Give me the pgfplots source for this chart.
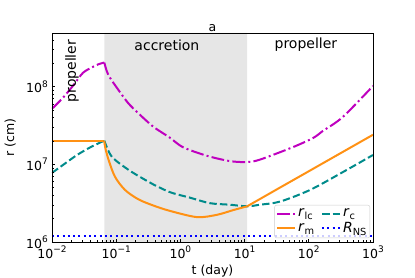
\documentclass[border=0pt,12pt]{standalone}
\usepackage{fontspec}
\setmainfont{DejaVu Sans}
\usepackage{pgfplots}
\pgfplotsset{compat=1.18}
\definecolor{cmag}{RGB}{191,0,191}
\definecolor{cteal}{RGB}{0,139,139}
\definecolor{corange}{RGB}{255,145,20}
\definecolor{cblue}{RGB}{0,0,255}
\definecolor{cshade}{RGB}{230,230,230}
\newcommand{\sx}[1]{10\raisebox{0.45em}{\fontsize{9}{10}\selectfont #1}}
\newcommand{\lsub}[1]{\raisebox{-0.35ex}{\fontsize{9.8}{10}\selectfont #1}}
\newcommand{\bigfont}{\fontsize{14}{16}\selectfont}
\newcommand{\midfont}{\fontsize{12.5}{14}\selectfont}
\begin{document}
\begin{tikzpicture}
\useasboundingbox (-52pt,-35pt) rectangle (363pt,242pt);
\begin{axis}[
  at={(0,0)}, anchor=south west,
  scale only axis, width=321pt, height=209pt,
  xmode=log, ymode=log,
  xmin=0.01, xmax=1000, ymin=1e6, ymax=4.9e8,
  xtick={0.01,0.1,1,10,100,1000},
  xticklabels={\sx{−2},\sx{−1},\sx{0},\sx{1},\sx{2},\sx{3}},
  ytick={1e6,1e7,1e8},
  yticklabels={\sx{6},\sx{7},\sx{8}},
  tick label style={font=\midfont},
  minor xtick={0.02,0.03,0.04,0.05,0.06,0.07,0.08,0.09,0.2,0.3,0.4,0.5,0.6,0.7,0.8,0.9,2,3,4,5,6,7,8,9,20,30,40,50,60,70,80,90,200,300,400,500,600,700,800,900},
  minor ytick={2e6,3e6,4e6,5e6,6e6,7e6,8e6,9e6,2e7,3e7,4e7,5e7,6e7,7e7,8e7,9e7,2e8,3e8,4e8},
  tick align=inside, xtick pos=bottom, ytick pos=left,
  major tick length=3.5pt, minor tick length=2pt,
  every tick/.style={black, line width=0.8pt},
  minor tick style={black, line width=0.6pt},
  axis line style={line width=0.8pt},
  axis on top,
  xlabel={t (day)}, ylabel={r (cm)}, title={a},
  label style={font=\midfont},
  title style={at={(0.5,1)}, anchor=south, yshift=-9pt, font=\midfont},
  xlabel style={at={(axis description cs:0.5,-0.092)}, anchor=north},
  ylabel style={at={(axis description cs:-0.1,0.5)}, anchor=south},
  legend columns=2,
  legend cell align=left,
  legend style={at={(0.991,0.019)}, anchor=south east, draw=black!20, rounded corners=2pt,
    fill=white, fill opacity=0.8, text opacity=1, inner sep=1.5pt, font=\bigfont,
    /tikz/every even column/.append style={column sep=5pt}},
  legend image code/.code={\draw[#1] (0pt,0pt) -- (18pt,0pt);},
]
\addplot[fill=cshade, draw=none, forget plot] coordinates {(0.0653,1e6) (10.96,1e6) (10.96,4.9e8) (0.0653,4.9e8)} \closedcycle;

% r_lc
\addplot[cmag, line width=2pt, smooth, dash pattern=on 12.8pt off 3.2pt on 2pt off 3.2pt] coordinates {
(0.01,5.18e7) (0.01479,7.18e7) (0.02138,1.033e8) (0.03041,1.507e8) (0.04365,1.799e8) (0.0537,1.95e8) (0.0653,2.04e8)};
\addlegendentry{\textit{r}\lsub{lc}}
% r_c
\addplot[cteal, line width=2pt, smooth, dash pattern=on 7.4pt off 3.2pt] coordinates {
(0.01,7.76e6) (0.01585,1.02e7) (0.02455,1.318e7) (0.0398,1.66e7) (0.0653,2.02e7)};
\addlegendentry{\textit{r}\lsub{c}}
% r_m
\addplot[corange, line width=2pt] coordinates {(0.01,2.0e7) (0.0653,2.0e7)};
\addlegendentry{\textit{r}\lsub{m}}
% R_NS
\addplot[cblue, line width=2pt, dash pattern=on 2pt off 3.3pt] coordinates {(0.01,1.2e6) (1000,1.2e6)};
\addlegendentry{\textit{R}\lsub{NS}}

\addplot[cmag, line width=2pt, smooth, forget plot, dash pattern=on 12.8pt off 3.2pt on 2pt off 3.2pt] coordinates {
(0.0653,2.04e8) (0.0753,1.419e8) (0.1079,9.10e7) (0.1542,6.12e7) (0.2208,4.55e7) (0.3784,3.05e7) (0.692,2.19e7) (1.096,1.66e7) (2.57,1.29e7) (5.89,1.10e7) (10.96,1.07e7) (17.38,1.15e7) (56.2,1.66e7) (117.5,2.19e7) (166,2.69e7) (339,4.07e7) (1000,1.02e8)};
\addplot[cteal, line width=2pt, smooth, forget plot, dash pattern=on 7.4pt off 3.2pt] coordinates {
(0.0653,2.02e7) (0.0851,1.259e7) (0.1549,8.51e6) (0.2818,6.31e6) (0.380,5.50e6) (0.692,4.37e6) (1.413,3.72e6) (2.884,3.16e6) (5.89,3.02e6) (10.96,2.88e6) (17.38,3.02e6) (35.5,3.31e6) (104.7,4.68e6) (339,7.94e6) (1000,1.318e7)};
\addplot[corange, line width=2pt, smooth, forget plot] coordinates {
(0.0653,2.0e7) (0.0670,1.69e7) (0.0759,1.148e7) (0.0957,6.92e6) (0.1371,4.68e6) (0.2208,3.55e6) (0.378,2.95e6) (0.692,2.51e6) (1.82,2.09e6) (3.72,2.24e6) (6.61,2.57e6) (10.96,2.88e6)};
\addplot[corange, line width=2pt, smooth, forget plot] coordinates {
(10.96,2.88e6) (17.38,3.58e6) (35.5,5.01e6) (104.7,8.32e6) (339,1.445e7) (1000,2.40e7)};

\node[rotate=90, font=\bigfont] at (rel axis cs:0.062,0.818) {propeller};
\node[font=\bigfont] at (rel axis cs:0.358,0.943) {accretion};
\node[font=\bigfont] at (rel axis cs:0.791,0.943) {propeller};
\end{axis}
\end{tikzpicture}
\end{document}
